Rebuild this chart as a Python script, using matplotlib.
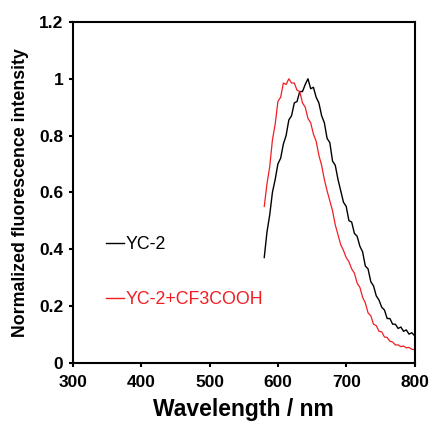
import matplotlib

matplotlib.use("Agg")
import matplotlib.pyplot as plt

# emission spectra, normalized
wavelength = [
    580, 584, 588, 592, 596, 600, 604, 608, 612, 616, 620, 624, 628, 632,
    636, 640, 644, 648, 652, 656, 660, 664, 668, 672, 676, 680, 684, 688,
    692, 696, 700, 704, 708, 712, 716, 720, 724, 728, 732, 736, 740, 744,
    748, 752, 756, 760, 764, 768, 772, 776, 780, 784, 788, 792, 796, 800,
]
yc2 = [
    0.37, 0.46, 0.52, 0.60, 0.645, 0.70, 0.72, 0.77, 0.80, 0.855, 0.87, 0.915,
    0.92, 0.955, 0.955, 0.98, 1.0, 0.965, 0.97, 0.935, 0.915, 0.87, 0.845, 0.79,
    0.775, 0.71, 0.695, 0.645, 0.605, 0.565, 0.55, 0.50, 0.495, 0.455, 0.445,
    0.41, 0.39, 0.34, 0.33, 0.285, 0.27, 0.235, 0.22, 0.195, 0.185, 0.155,
    0.155, 0.135, 0.135, 0.12, 0.125, 0.11, 0.115, 0.10, 0.105, 0.095,
]
yc2_acid = [
    0.55, 0.63, 0.69, 0.785, 0.84, 0.92, 0.935, 0.985, 0.98, 1.0, 0.985, 0.985,
    0.96, 0.955, 0.915, 0.9, 0.86, 0.845, 0.805, 0.78, 0.73, 0.695, 0.645, 0.605,
    0.57, 0.535, 0.485, 0.45, 0.415, 0.395, 0.37, 0.355, 0.33, 0.315, 0.28,
    0.265, 0.23, 0.21, 0.175, 0.165, 0.135, 0.13, 0.11, 0.108, 0.09, 0.088,
    0.075, 0.072, 0.062, 0.062, 0.056, 0.058, 0.052, 0.053, 0.047, 0.045,
]
x_ticks = [300, 400, 500, 600, 700, 800]
y_ticks = [0, 0.2, 0.4, 0.6, 0.8, 1.0, 1.2]
y_tick_labels = ["0", "0.2", "0.4", "0.6", "0.8", "1", "1.2"]

plt.rcParams["font.family"] = ["Liberation Sans", "DejaVu Sans"]

fig = plt.figure(figsize=(4.32, 4.24), dpi=100)
ax = fig.add_axes([0.169, 0.145, 0.7905, 0.803])

ax.plot(wavelength, yc2, color="black", linewidth=1.0, label="YC-2")
ax.plot(wavelength, yc2_acid, color="#f01e23", linewidth=0.9, label="YC-2+CF3COOH")

ax.set_xlim(300, 800)
ax.set_ylim(0, 1.2)
ax.set_xticks(x_ticks)
ax.set_yticks(y_ticks)
ax.set_yticklabels(y_tick_labels)

for side in ax.spines.values():
    side.set_linewidth(1.5)
ax.tick_params(direction="out", length=3, width=1.5, labelsize=12.5)
ax.tick_params(axis="x", pad=6)
ax.tick_params(axis="y", pad=4)
for lab in ax.get_xticklabels() + ax.get_yticklabels():
    lab.set_fontweight("bold")

ax.set_xlabel("Wavelength / nm", fontsize=16.5, fontweight="bold", labelpad=6)
ax.set_ylabel("Normalized fluorescence intensity", fontsize=12.8,
              fontweight="bold", labelpad=7)

leg = ax.legend(loc="upper left", bbox_to_anchor=(0.076, 0.392), frameon=False,
                fontsize=12.8, handlelength=1.0, handletextpad=0.1,
                labelspacing=2.12, borderaxespad=0)
for txt, ln in zip(leg.get_texts(), leg.get_lines()):
    txt.set_color(ln.get_color())
    ln.set_linewidth(1.0)

fig.savefig("out.png", dpi=100)
